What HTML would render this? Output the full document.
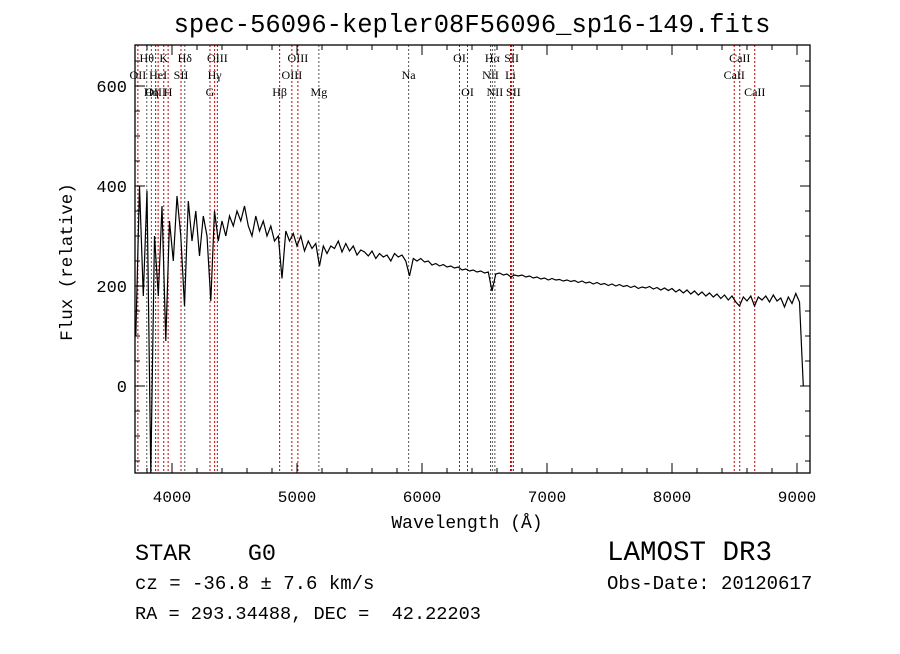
<!DOCTYPE html>
<html><head><meta charset="utf-8"><style>
body{margin:0;background:#fff}
svg text{font-family:"Liberation Mono",monospace;fill:#000;white-space:pre}
.ll{font-family:"Liberation Serif",serif;font-size:12px}
</style></head><body>
<svg id="chart" width="900" height="649" viewBox="0 0 900 649" xmlns="http://www.w3.org/2000/svg" xml:space="preserve">
<rect width="900" height="649" fill="#fff"/>
<text x="472" y="32" text-anchor="middle" font-size="25.5">spec-56096-kepler08F56096_sp16-149.fits</text>
<g id="lines"></g>
<g id="axes"></g>
<path id="spec" fill="none" stroke="#000" stroke-width="1.2"/>
<text x="467" y="528" text-anchor="middle" font-size="18">Wavelength (Å)</text>
<text transform="translate(72,262) rotate(-90)" text-anchor="middle" font-size="17.5">Flux (relative)</text>
<text x="135" y="560" font-size="23.5">STAR    G0</text>
<text x="607" y="560" font-size="27.5">LAMOST DR3</text>
<text x="135" y="589" font-size="19">cz = -36.8 ± 7.6 km/s</text>
<text x="607" y="589" font-size="19">Obs-Date: 20120617</text>
<text x="135" y="619" font-size="18.6">RA = 293.34488, DEC =  42.22203</text>
</svg>
<script>
const wave=[3710,3740,3770,3800,3830,3860,3890,3920,3950,3980,4010,4040,4070,4100,4130,4160,4190,4220,4250,4280,4310,4340,4370,4400,4430,4460,4490,4520,4550,4580,4610,4640,4670,4700,4730,4760,4790,4820,4850,4880,4910,4940,4970,5000,5030,5060,5090,5120,5150,5180,5210,5240,5270,5300,5330,5360,5390,5420,5450,5480,5510,5540,5570,5600,5630,5660,5690,5720,5750,5780,5810,5840,5870,5900,5930,5960,5990,6020,6050,6080,6110,6140,6170,6200,6230,6260,6290,6320,6350,6380,6410,6440,6470,6500,6530,6560,6590,6620,6650,6680,6710,6740,6770,6800,6830,6860,6890,6920,6950,6980,7010,7040,7070,7100,7130,7160,7190,7220,7250,7280,7310,7340,7370,7400,7430,7460,7490,7520,7550,7580,7610,7640,7670,7700,7730,7760,7790,7820,7850,7880,7910,7940,7970,8000,8030,8060,8090,8120,8150,8180,8210,8240,8270,8300,8330,8360,8390,8420,8450,8480,8510,8540,8570,8600,8630,8660,8690,8720,8750,8780,8810,8840,8870,8900,8930,8960,8990,9020,9050];
const flux=[100,400,180,390,-175,300,180,360,90,330,250,380,300,160,370,290,350,260,340,300,170,350,290,330,300,340,320,350,330,360,320,300,340,310,330,300,320,290,300,215,310,290,305,280,300,270,290,275,285,240,280,265,280,275,290,268,285,270,280,262,272,268,260,270,255,265,258,262,250,265,258,262,250,220,255,250,255,248,250,242,245,240,243,238,240,236,238,232,234,230,232,228,230,226,228,190,224,226,222,224,218,222,220,222,218,220,216,218,214,216,212,215,212,213,210,212,209,211,207,210,206,208,204,207,203,205,201,204,200,203,199,201,197,200,195,198,196,199,194,197,192,196,191,195,188,193,186,192,184,190,182,188,180,186,178,184,175,182,172,180,168,160,178,170,180,160,178,172,180,168,182,170,176,158,178,165,185,168,0];
const xTicks=[4000,5000,6000,7000,8000,9000];
const yTicks=[0,200,400,600];
const lineWave=[3727,3798,3835,3869,3889,3934,3969,4072,4102,4304,4341,4363,4861,4959,5007,5175,5893,6300,6364,6548,6563,6583,6708,6717,6731,8498,8542,8662];
const lineName=["OII","Hθ","Hη","OIII","HeI","K","H","SII","Hδ","G","Hγ","OIII","Hβ","OIII","OIII","Mg","Na","OI","OI","NII","Hα","NII","Li","SII","SII","CaII","CaII","CaII"];
const lineRow=[2,1,3,3,2,1,3,2,1,3,2,1,3,2,1,3,2,1,3,2,1,3,2,1,3,2,1,3];
const lineRed=[1,0,0,1,1,1,1,1,0,1,1,1,1,1,1,0,0,1,1,0,0,0,1,1,1,1,1,1];
const L=135,R=810,T=45,B=473,W0=3704,W1=9104,F0=-174,F1=682;
const X=w=>L+(w-W0)/(W1-W0)*(R-L);
const Y=f=>B-(f-F0)/(F1-F0)*(B-T);
const NS="http://www.w3.org/2000/svg";
function mk(tag,attrs,parent,txt){const e=document.createElementNS(NS,tag);for(const k in attrs)e.setAttribute(k,attrs[k]);if(txt!==undefined)e.textContent=txt;parent.appendChild(e);return e;}
const ax=document.getElementById('axes');
const frame=mk('rect',{x:L,y:T,width:R-L,height:B-T,fill:'none',stroke:'#000','stroke-width':1.3},ax);


for(let w=3800;w<=9100;w+=200){const x=X(w);const maj=w%1000===0;const len=maj?10:5;
 mk('line',{x1:x,y1:B,x2:x,y2:B-len,stroke:'#000'},ax);mk('line',{x1:x,y1:T,x2:x,y2:T+len,stroke:'#000'},ax);}
xTicks.forEach(w=>{const t=mk('text',{x:X(w),y:502,'text-anchor':'middle','font-size':16},ax,String(w));
 
 });
for(let f=-150;f<=650;f+=50){const y=Y(f);const maj=f%200===0;const len=maj?10:5;
 mk('line',{x1:L,y1:y,x2:L+len,y2:y,stroke:'#000'},ax);mk('line',{x1:R,y1:y,x2:R-len,y2:y,stroke:'#000'},ax);}
yTicks.forEach(f=>{const t=mk('text',{x:127,y:Y(f)+6,'text-anchor':'end','font-size':17},ax,String(f));
 
 });
const lg=document.getElementById('lines');
lineWave.forEach((w,i)=>{const x=X(w);
 const ln=mk('line',{x1:x,y1:T,x2:x,y2:B,stroke:lineRed[i]?'#c00000':'#555','stroke-width':1,'stroke-dasharray':'2,2'},lg);
 
 
 const t=mk('text',{x:x,y:62+(lineRow[i]-1)*17,'text-anchor':'middle',class:'ll'},lg,lineName[i]);
 
 });
document.getElementById('spec').setAttribute('d',wave.map((w,i)=>(i?'L':'M')+X(w).toFixed(1)+' '+Y(flux[i]).toFixed(1)).join(' '));
</script>
</body></html>
